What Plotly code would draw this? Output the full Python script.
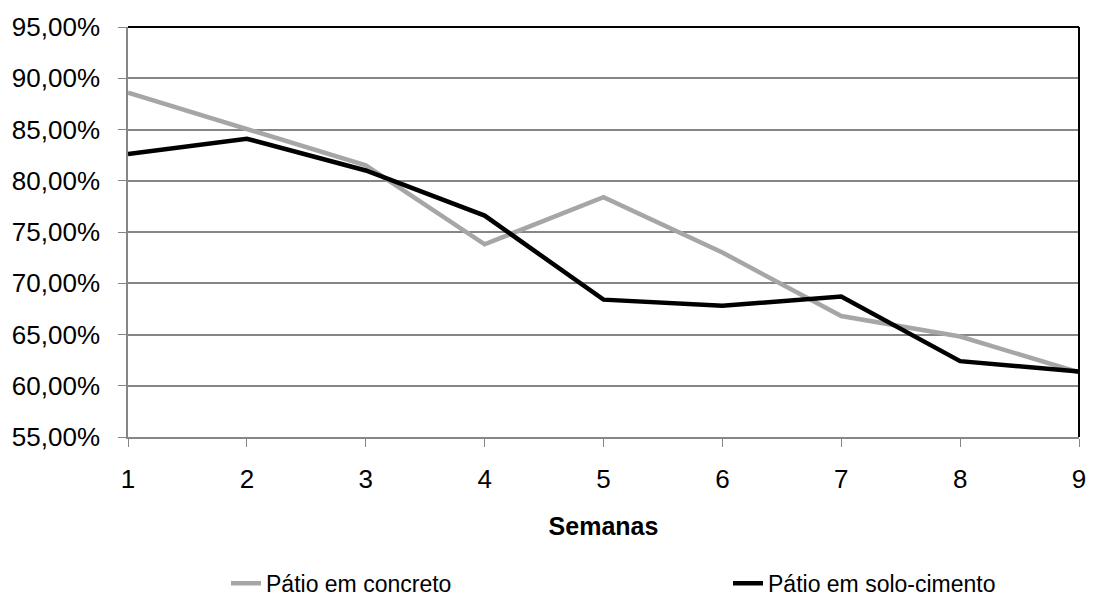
import plotly.graph_objects as go

semanas = [1, 2, 3, 4, 5, 6, 7, 8, 9]
patio_concreto = [0.886, 0.850, 0.815, 0.738, 0.784, 0.730, 0.668, 0.648, 0.613]
patio_solo_cimento = [0.826, 0.841, 0.810, 0.766, 0.684, 0.678, 0.687, 0.624, 0.614]
y_ticks = [0.55, 0.60, 0.65, 0.70, 0.75, 0.80, 0.85, 0.90, 0.95]

font_family = "Liberation Sans, Arial, sans-serif"

fig = go.Figure()
fig.add_trace(go.Scatter(
    x=semanas, y=patio_concreto, mode="lines", name="Pátio em concreto",
    line=dict(color="#A6A6A6", width=4.5), legend="legend"))
fig.add_trace(go.Scatter(
    x=semanas, y=patio_solo_cimento, mode="lines", name="Pátio em solo-cimento",
    line=dict(color="#000000", width=4.5), legend="legend2"))

legend_common = dict(orientation="h", xref="container", yref="container",
                     xanchor="left", y=0.047, yanchor="middle",
                     font=dict(size=23), itemwidth=30,
                     bgcolor="rgba(0,0,0,0)")

fig.update_layout(
    width=1098, height=612,
    margin=dict(l=126, r=18, t=22, b=175),
    paper_bgcolor="white", plot_bgcolor="white",
    separators=",.",
    font=dict(family=font_family, size=26, color="black"),
    showlegend=True,
    legend=dict(x=226 / 1098, **legend_common),
    legend2=dict(x=728 / 1098, **legend_common),
    xaxis=dict(range=[1, 9], tickmode="array", tickvals=semanas,
               showgrid=False, zeroline=False,
               showline=True, linecolor="#868686", linewidth=1.5,
               ticks="outside", ticklen=8, tickcolor="#868686",
               ticklabelstandoff=10,
               title=dict(text="<b>Semanas</b>", standoff=25,
                          font=dict(size=25))),
    yaxis=dict(range=[0.55, 0.95], tickmode="array", tickvals=y_ticks,
               tickformat=".2%", showgrid=True, gridcolor="#868686",
               gridwidth=1.5, zeroline=False,
               showline=True, linecolor="#868686", linewidth=1.5,
               ticks="outside", ticklen=8, tickcolor="#868686",
               ticklabelstandoff=13),
    shapes=[
        dict(type="line", xref="paper", yref="paper", x0=0, x1=1, y0=1, y1=1,
             line=dict(color="black", width=2)),
        dict(type="line", xref="paper", yref="paper", x0=1, x1=1, y0=0, y1=1,
             line=dict(color="black", width=2)),
    ],
)

fig.write_html("out.html")
